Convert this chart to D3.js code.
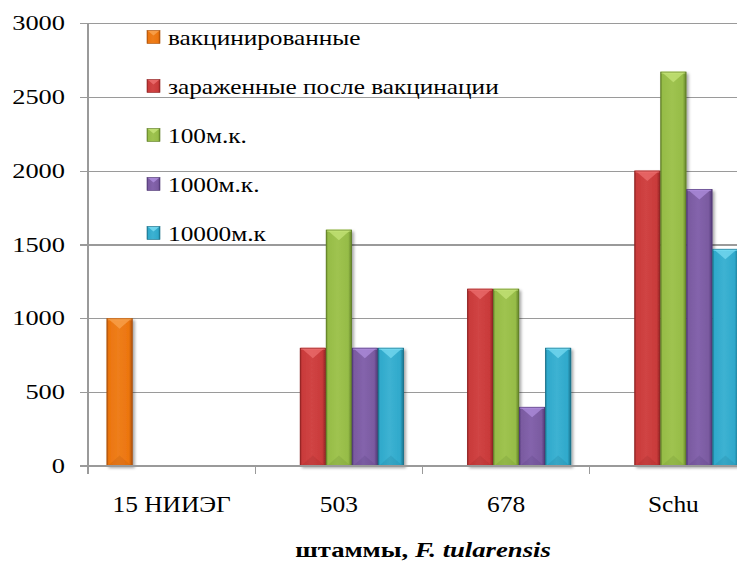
<!DOCTYPE html>
<html>
<head>
<meta charset="utf-8">
<script src="https://cdn.jsdelivr.net/npm/d3@7"></script>
</head>
<body style="margin:0; background:#ffffff">
<svg id="chart" width="737" height="562"></svg>
<script>
// Strains on the x axis
const categories = ["15 НИИЭГ", "503", "678", "Schu"];

// Series names (legend order)
const seriesNames = [
  "вакцинированные",
  "зараженные после вакцинации",
  "100м.к.",
  "1000м.к.",
  "10000м.к"
];

// Values per series, one per strain (null = no bar)
const vaccinated       = [1000, null, null, null];
const infectedAfterVac = [null, 800, 1200, 2000];
const dose100          = [null, 1600, 1200, 2670];
const dose1000         = [null, 800, 400, 1875];
const dose10000        = [null, 800, 800, 1470];

const yTicks = [0, 500, 1000, 1500, 2000, 2500, 3000];
const xTitleMain = "штаммы, ";
const xTitleItalic = "F. tularensis";

const seriesValues = [vaccinated, infectedAfterVac, dose100, dose1000, dose10000];

// Palette: base, light highlight, dark edge
const palette = [
  { base: "#EC750F", light: "#F9A552", dark: "#A9500A" },
  { base: "#C93A3A", light: "#EE7070", dark: "#8E2424" },
  { base: "#96BC47", light: "#C7E57A", dark: "#5F7E27" },
  { base: "#7A5AA0", light: "#B090E0", dark: "#4F3773" },
  { base: "#2FA9CB", light: "#7ADDF4", dark: "#1A6F88" }
];

const svg = d3.select("#chart");
const defs = svg.append("defs");

// Soft drop shadow for the bars
const shadow = defs.append("filter").attr("id", "barShadow")
  .attr("x", "-20%").attr("y", "-5%").attr("width", "150%").attr("height", "115%");
shadow.append("feDropShadow")
  .attr("dx", 2).attr("dy", 2).attr("stdDeviation", 1.6)
  .attr("flood-color", "#000").attr("flood-opacity", 0.35);

// Horizontal gradients giving the bevelled look
palette.forEach((c, i) => {
  const g = defs.append("linearGradient").attr("id", "grad" + i)
    .attr("x1", "0%").attr("x2", "100%").attr("y1", "0%").attr("y2", "0%");
  g.append("stop").attr("offset", "0%").attr("stop-color", c.dark);
  g.append("stop").attr("offset", "8%").attr("stop-color", c.base);
  g.append("stop").attr("offset", "45%").attr("stop-color", d3.interpolateRgb(c.base, c.light)(0.18));
  g.append("stop").attr("offset", "86%").attr("stop-color", c.base);
  g.append("stop").attr("offset", "100%").attr("stop-color", c.dark);
});

// Plot geometry
const plotLeft = 88, plotRight = 757, plotTop = 23, plotBottom = 466;

const y = d3.scaleLinear().domain([0, 3000]).range([plotBottom, plotTop]);
const x0 = d3.scaleBand().domain(categories).range([plotLeft, plotRight]).paddingInner(0).paddingOuter(0);
const x1 = d3.scaleBand().domain(d3.range(seriesNames.length))
  .range([0, x0.bandwidth()]).paddingInner(0).paddingOuter(0.716);

const gridColor = "#9a9a9a";
const sx = 1.15; // horizontal stretch of the serif labels

// Serif label placed at (x, y), stretched horizontally by k
function label(parent, x, y, str, size, anchor, k) {
  const t = parent.append("text")
    .attr("transform", `translate(${x},${y}) scale(${k},1)`)
    .attr("text-anchor", anchor)
    .attr("font-size", size)
    .style("font-family", '"Liberation Serif"');
  if (str != null) t.text(str);
  return t;
}

// Gridlines with outside tick marks
const yAxis = d3.axisLeft(y).tickValues(yTicks).tickSize(-(737 - plotLeft)).tickFormat("");
const gy = svg.append("g").attr("transform", `translate(${plotLeft},0)`).call(yAxis);
gy.select(".domain").remove();
gy.selectAll(".tick line").attr("stroke", gridColor).attr("stroke-width", 1.2).attr("shape-rendering", "crispEdges");
gy.selectAll(".tick").append("line")
  .attr("x1", -8).attr("x2", 0).attr("stroke", gridColor).attr("stroke-width", 1.2)
  .attr("shape-rendering", "crispEdges");

// Vertical axis line
svg.append("line")
  .attr("x1", plotLeft).attr("x2", plotLeft).attr("y1", plotTop).attr("y2", plotBottom)
  .attr("stroke", gridColor).attr("stroke-width", 1.2).attr("shape-rendering", "crispEdges");

// Y tick labels
yTicks.forEach(t => label(svg, 65, y(t) + 7, String(t), 22, "end", 1.2));

// Category separator ticks below the axis
const boundaries = categories.map(c => x0(c)).concat([x0(categories[categories.length - 1]) + x0.bandwidth()]);
boundaries.forEach(bx => {
  svg.append("line")
    .attr("x1", bx).attr("x2", bx).attr("y1", plotBottom).attr("y2", plotBottom + 8)
    .attr("stroke", gridColor).attr("stroke-width", 1.2).attr("shape-rendering", "crispEdges");
});

// Bars
function drawBar(g, bx, by, bw, bh, i) {
  const c = palette[i];
  const bar = g.append("g").attr("filter", "url(#barShadow)");
  bar.append("rect")
    .attr("x", bx).attr("y", by).attr("width", bw).attr("height", bh)
    .attr("fill", `url(#grad${i})`);
  const b = Math.min(bw * 0.4, bh / 2);
  // top highlight
  bar.append("polygon")
    .attr("points", [[bx + 1, by], [bx + bw - 1, by], [bx + bw / 2, by + b]].map(p => p.join(",")).join(" "))
    .attr("fill", c.light).attr("opacity", 0.7);
  bar.append("rect")
    .attr("x", bx + 1).attr("y", by).attr("width", bw - 2).attr("height", 2)
    .attr("fill", c.light).attr("opacity", 0.6);
  // bottom shade
  bar.append("polygon")
    .attr("points", [[bx + 1, by + bh], [bx + bw - 1, by + bh], [bx + bw / 2, by + bh - b]].map(p => p.join(",")).join(" "))
    .attr("fill", c.dark).attr("opacity", 0.18);
  // edge outline
  bar.append("rect")
    .attr("x", bx + 0.4).attr("y", by + 0.4).attr("width", bw - 0.8).attr("height", bh - 0.8)
    .attr("fill", "none").attr("stroke", c.dark).attr("stroke-width", 0.8).attr("opacity", 0.7);
}

const barsG = svg.append("g");
categories.forEach((cat, ci) => {
  seriesValues.forEach((vals, si) => {
    const v = vals[ci];
    if (v == null) return;
    const bx = x0(cat) + x1(si);
    drawBar(barsG, bx, y(v), x1.bandwidth(), y(0) - y(v), si);
  });
});

// Bottom axis line over the bar bases
svg.append("line")
  .attr("x1", plotLeft - 8).attr("x2", 737).attr("y1", plotBottom).attr("y2", plotBottom)
  .attr("stroke", gridColor).attr("stroke-width", 1.2).attr("shape-rendering", "crispEdges");

// Category labels
categories.forEach(cat => label(svg, x0(cat) + x0.bandwidth() / 2, 512, cat, 24, "middle", 1.06));

// Axis title
const title = label(svg, 423, 557, null, 21, "middle", 1.27).attr("font-weight", "bold");
title.append("tspan").text(xTitleMain);
title.append("tspan").attr("font-style", "italic").text(xTitleItalic);

// Legend
const legendTop = 37, legendStep = 49;
seriesNames.forEach((name, i) => {
  const cy = legendTop + i * legendStep;
  const c = palette[i];
  const s = 13, lx = 147, ly = cy - s / 2;
  const lg = svg.append("g");
  lg.append("rect").attr("x", lx).attr("y", ly).attr("width", s).attr("height", s)
    .attr("fill", `url(#grad${i})`).attr("stroke", c.dark).attr("stroke-width", 0.6);
  lg.append("polygon")
    .attr("points", [[lx + 1, ly + 0.5], [lx + s - 1, ly + 0.5], [lx + s / 2, ly + 5]].map(p => p.join(",")).join(" "))
    .attr("fill", c.light).attr("opacity", 0.8);
  label(lg, 168, cy + 8, name, 22, "start", sx);
});
</script>
</body>
</html>
